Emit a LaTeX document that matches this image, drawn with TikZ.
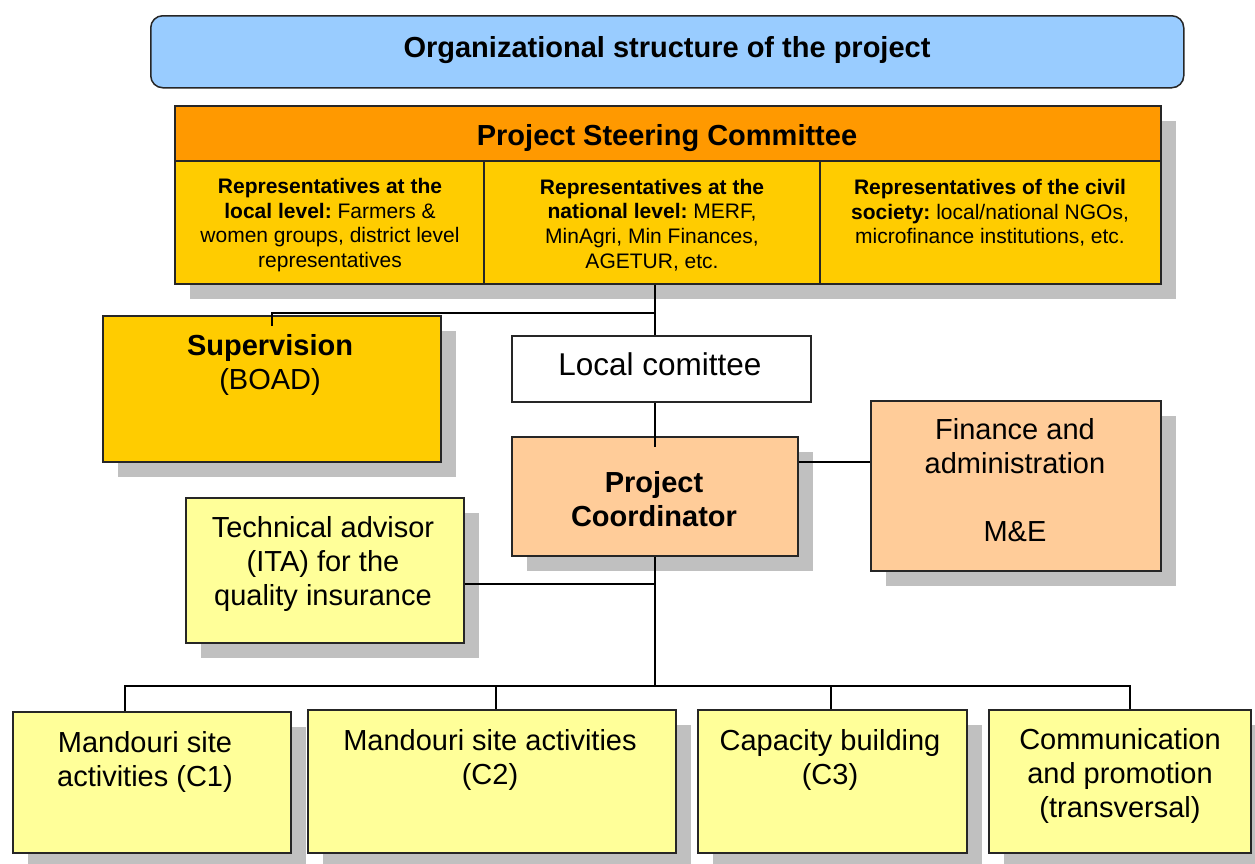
\documentclass[tikz,border=0pt]{standalone}
\usepackage{fontspec}
\setmainfont{Liberation Sans}
\usetikzlibrary{shadows}
\frenchspacing
\definecolor{tblue}{HTML}{99CCFF}
\definecolor{torange}{HTML}{FF9900}
\definecolor{tgold}{HTML}{FFCC00}
\definecolor{tpeach}{HTML}{FFCC99}
\definecolor{tyellow}{HTML}{FFFF99}
\definecolor{shadowgray}{HTML}{C0C0C0}
\begin{document}
\begin{tikzpicture}[x=1pt,y=-1pt,
  box/.style={draw=black!85,line width=1.5pt,inner sep=0pt,anchor=north west},
  shad/.style={general shadow={fill=shadowgray,shadow xshift=15pt,shadow yshift=-15pt}},
  conn/.style={draw=black,line width=1.6pt},
  big/.style={font=\fontsize{29}{34}\selectfont,align=center,inner sep=0pt},
  small/.style={font=\fontsize{21}{24.7}\selectfont\frenchspacing,align=center,inner sep=0pt}]
\useasboundingbox (0,0) rectangle (1255,863);
\clip (0,0) rectangle (1255,863);
\fill[white] (0,0) rectangle (1255,863);

% title
\node[box,fill=tblue,rounded corners=12pt,minimum width=1033pt,minimum height=72pt] (title) at (150,15) {};
\node[big] (titletxt) at (667,50) {\textbf{Organizational structure of the project}};

% steering committee
\node[box,shad,fill=tgold,minimum width=986pt,minimum height=178pt] (psc) at (174,105) {};
\node[box,fill=torange,minimum width=986pt,minimum height=55pt] (psch) at (174,105) {};
\node[big] (pschtxt) at (667,138) {\textbf{Project Steering Committee}};
\draw[draw=black!85,line width=1.5pt] (484,160) -- (484,283);
\draw[draw=black!85,line width=1.5pt] (820,160) -- (820,283);
\node[small] (loc) at (330,225) {\textbf{Representatives at the}\\\textbf{local level:} Farmers \&\\women groups, district level\\representatives};
\node[small] (nat) at (652,225) {\textbf{Representatives at the}\\\textbf{national level:} MERF,\\MinAgri, Min Finances,\\AGETUR, etc.};
\node[small] (civ) at (990,213) {\textbf{Representatives of the civil}\\\textbf{society:} local/national NGOs,\\microfinance institutions, etc.};

% supervision
\node[box,shad,fill=tgold,minimum width=338pt,minimum height=146pt] (sup) at (102,315) {};
\node[big] (suptxt) at (270,365) {\textbf{Supervision}\\(BOAD)};

% local committee
\node[box,fill=white,minimum width=299pt,minimum height=66pt] (lc) at (511,335) {};
\node[font=\fontsize{31.5}{36}\selectfont,inner sep=0pt] (lctxt) at (660,364) {Local comittee};

% coordinator
\node[box,shad,fill=tpeach,minimum width=286pt,minimum height=119pt] (coord) at (511,436) {};
\node[big] (coordtxt) at (654,499) {\textbf{Project}\\\textbf{Coordinator}};

% finance
\node[box,shad,fill=tpeach,minimum width=290pt,minimum height=170pt] (fin) at (870,400) {};
\node[big] (fintxt) at (1015,480) {Finance and\\administration\\[34pt]M\&E};

% technical advisor
\node[box,shad,fill=tyellow,minimum width=278pt,minimum height=145pt] (ta) at (185,497) {};
\node[big] (tatxt) at (323,564) {Technical advisor\\(ITA) for the\\quality insurance};

% components
\node[box,shad,fill=tyellow,minimum width=278pt,minimum height=141pt] (c1) at (12,711) {};
\node[big] (c1txt) at (145,762) {Mandouri site\\activities (C1)};
\node[box,shad,fill=tyellow,minimum width=368pt,minimum height=143pt] (c2) at (307,709) {};
\node[big] (c2txt) at (490,760) {Mandouri site activities\\(C2)};
\node[box,shad,fill=tyellow,minimum width=269pt,minimum height=143pt] (c3) at (697,709) {};
\node[big] (c3txt) at (830,760) {Capacity building\\(C3)};
\node[box,shad,fill=tyellow,minimum width=262pt,minimum height=143pt] (c4) at (988,709) {};
\node[big] (c4txt) at (1120,776) {Communication\\and promotion\\(transversal)};

% connectors
\coordinate (jsup) at (655,313);
\coordinate (bus) at (655,686);
\draw[conn] (psc.south -| jsup) -- (lc.north -| jsup);
\draw[conn] (jsup) -| ([yshift=-11pt]sup.north);
\draw[conn] (lc.south -| jsup) -- ([yshift=-11pt]coord.north -| jsup);
\draw[conn] ([yshift=34.5pt]coord.east) -- ([yshift=34.5pt]coord.east -| fin.west);
\draw[conn] (coord.south -| jsup) -- (bus);
\draw[conn] ([yshift=-14pt]ta.east) -- ([yshift=-14pt]ta.east -| jsup);
\draw[conn] ([xshift=113pt]c1.north west) |- (bus) -| ([xshift=142pt]c4.north west);
\draw[conn] ([xshift=189pt]c2.north west) |- (bus);
\draw[conn] ([xshift=134pt]c3.north west) |- (bus);
\end{tikzpicture}
\end{document}
